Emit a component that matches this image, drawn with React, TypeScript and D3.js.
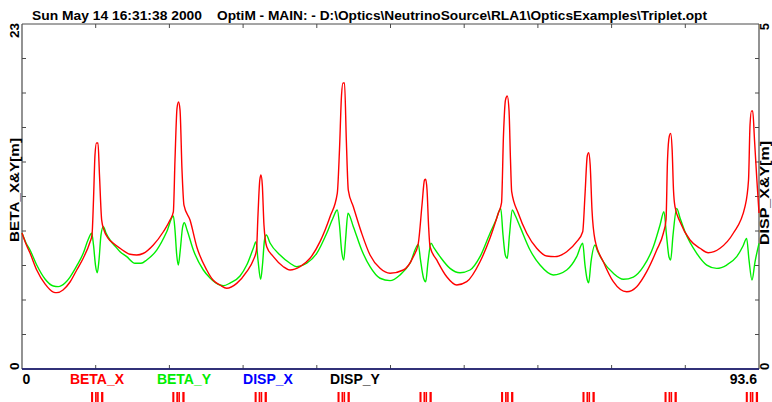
import React from "react";
import * as d3 from "d3";

const titleDate = "Sun May 14 16:31:38 2000";
const titleFile = "OptiM - MAIN: - D:\\Optics\\NeutrinoSource\\RLA1\\OpticsExamples\\Triplet.opt";

const sMax = 93.6;
const betaMax = 23;
const dispMax = 5;

const betaX: [number, number][] = [
  [0, 9.07],[0.51, 8.33],[1.02, 7.73],[1.87, 6.6],[2.92, 5.67],[3.98, 5.13],[4.41, 5.09],[5.21, 5.27],[6.1, 5.8],[6.95, 6.6],
  [7.79, 7.4],[8.64, 8.47],[8.89, 8.93],[9.08, 11.27],[9.27, 14.27],[9.46, 15.07],[9.65, 15.07],[9.84, 12.93],[10.12, 9.93],[10.41, 9.27],
  [10.92, 8.73],[11.6, 8.38],[12.45, 8.05],[13.72, 7.65],[14.57, 7.6],[15.37, 7.7],[16.68, 8.27],[17.95, 9.15],[18.8, 9.93],[19.22, 10.47],
  [19.43, 13.93],[19.69, 17.4],[19.88, 17.8],[20.07, 17.27],[20.32, 13.27],[20.57, 10.93],[21.34, 9.93],[22.19, 8.15],[23.46, 6.6],[24.26, 5.93],
  [25.15, 5.6],[26.0, 5.38],[27.27, 5.71],[28.54, 6.49],[29.38, 7.27],[29.78, 7.93],[29.97, 10.27],[30.2, 12.6],[30.35, 12.93],[30.52, 12.27],
  [30.73, 9.6],[31.08, 8.15],[31.92, 7.49],[33.19, 6.82],[34.04, 6.6],[35.31, 6.82],[36.58, 7.38],[37.85, 8.49],[39.12, 10.15],[40.04, 11.71],
  [40.32, 14.6],[40.58, 18.27],[40.77, 19.07],[40.96, 19.07],[41.19, 15.27],[41.44, 11.93],[42.08, 10.82],[43.14, 9.05],[44.2, 7.6],[45.47, 6.71],
  [46.74, 6.38],[48.43, 6.6],[49.7, 7.49],[50.33, 8.38],[50.8, 10.93],[51.12, 12.6],[51.27, 12.65],[51.44, 11.93],[51.63, 9.6],[51.82, 8.15],
  [52.67, 7.27],[53.94, 6.15],[55.21, 5.6],[56.48, 5.82],[58.17, 7.15],[59.44, 8.73],[60.49, 10.38],[60.9, 11.07],[61.15, 15.6],[61.4, 17.93],
  [61.63, 18.2],[61.85, 17.27],[62.04, 13.93],[62.19, 11.82],[63.03, 10.38],[64.1, 9.05],[65.37, 8.05],[66.64, 7.53],[67.69, 7.49],[69.18, 7.82],
  [70.45, 8.49],[71.21, 9.15],[71.5, 11.6],[71.79, 14.2],[71.97, 14.42],[72.16, 13.6],[72.39, 10.6],[72.77, 8.6],[73.83, 7.15],[75.1, 5.82],
  [76.8, 5.15],[78.07, 5.49],[79.34, 6.49],[80.61, 7.93],[81.45, 9.05],[81.79, 9.93],[81.98, 13.93],[82.21, 15.53],[82.38, 15.71],[82.57, 14.6],
  [82.74, 11.93],[82.93, 10.82],[83.57, 9.82],[84.84, 8.6],[86.11, 8.05],[87.16, 7.75],[88.65, 8.05],[90.33, 9.05],[91.82, 10.82],[92.27, 12.6],
  [92.46, 16.27],[92.65, 17.2],[92.8, 17.2],[93.03, 15.27],[93.33, 12.6],[93.6, 10.4],
];

const betaY: [number, number][] = [
  [0, 9.07],[0.51, 8.4],[1.02, 7.93],[1.87, 6.93],[2.92, 6.0],[3.98, 5.53],[4.61, 5.49],[5.46, 5.73],[6.1, 6.13],[6.95, 6.87],
  [7.79, 7.73],[8.38, 8.6],[8.85, 9.05],[9.08, 8.27],[9.33, 6.93],[9.56, 6.42],[9.78, 7.27],[10.03, 8.93],[10.33, 9.49],[10.67, 9.07],
  [11.18, 8.6],[11.81, 8.2],[12.45, 7.82],[13.3, 7.49],[14.35, 7.05],[15.11, 7.05],[15.84, 7.27],[17.11, 7.93],[18.38, 9.15],[19.22, 10.2],
  [19.43, 9.27],[19.65, 7.6],[19.85, 6.93],[20.1, 7.93],[20.38, 9.4],[20.61, 9.75],[20.96, 9.27],[21.76, 7.93],[23.03, 6.6],[23.88, 6.07],
  [25.15, 5.6],[25.57, 5.55],[26.42, 5.73],[27.69, 6.2],[28.54, 6.93],[29.38, 8.05],[29.72, 8.49],[29.97, 7.27],[30.31, 5.98],[30.54, 6.93],
  [30.8, 8.6],[31.03, 8.93],[31.5, 8.4],[32.77, 7.6],[34.04, 7.05],[34.89, 6.82],[36.16, 7.05],[37.43, 7.71],[38.7, 9.05],[39.5, 10.07],
  [40.04, 10.6],[40.32, 9.6],[40.58, 7.93],[40.86, 7.27],[41.09, 8.6],[41.4, 10.38],[42.08, 9.49],[43.14, 7.93],[44.2, 6.82],[45.47, 6.05],
  [46.74, 5.89],[48.01, 6.27],[49.28, 7.05],[50.33, 8.31],[50.61, 7.27],[50.99, 6.07],[51.27, 5.82],[51.56, 7.13],[51.94, 8.38],[52.32, 8.07],
  [53.09, 7.49],[54.36, 6.71],[55.63, 6.42],[56.9, 6.6],[58.17, 7.49],[59.44, 9.05],[60.2, 9.93],[60.8, 10.71],[61.09, 8.93],[61.38, 7.6],
  [61.63, 7.38],[61.91, 8.93],[62.27, 10.6],[62.61, 10.27],[63.25, 9.49],[64.52, 7.93],[65.79, 6.93],[67.48, 6.27],[69.18, 6.6],[70.45, 7.49],
  [71.21, 8.38],[71.5, 6.93],[71.79, 5.93],[71.97, 5.75],[72.26, 7.13],[72.77, 8.27],[73.15, 7.8],[73.83, 7.15],[75.1, 6.38],[76.37, 5.98],
  [77.64, 6.13],[78.91, 6.82],[80.18, 8.15],[81.03, 9.6],[81.53, 10.49],[81.85, 8.93],[82.17, 7.47],[82.38, 7.27],[82.68, 8.93],[83.15, 10.71],
  [83.57, 10.07],[84.2, 9.15],[85.69, 7.71],[86.96, 6.93],[88.23, 6.71],[89.5, 6.93],[90.77, 7.49],[91.57, 8.2],[92.03, 8.71],[92.33, 7.27],
  [92.71, 5.93],[93.09, 7.13],[93.6, 8.38],
];

const dispS = [0, 93.6];
const dispX = [0, 0];
const dispY = [0, 0];

const tripletCenters = [9.56, 19.88, 30.33, 40.86, 51.27, 61.63, 71.97, 82.39, 92.71];
const quadStart = [-0.79, -0.28, -0.02, 0.48];
const quadEnd = [-0.53, -0.07, 0.18, 0.77];

const legendNames = ["BETA_X", "BETA_Y", "DISP_X", "DISP_Y"];
const legendColors = ["#ff0000", "#00ee00", "#0000ff", "#000000"];
const legendCenters = [97, 184, 268, 355];

const divisions = 10;

export default function App() {
  const L = 22, R = 759, T = 24, B = 369;
  const x = d3.scaleLinear().domain([0, sMax]).range([L, R]);
  const yL = d3.scaleLinear().domain([0, betaMax]).range([B, T]);
  const yR = d3.scaleLinear().domain([0, dispMax]).range([B, T]);

  const line = d3
    .line<[number, number]>()
    .x((d) => x(d[0]))
    .y((d) => yL(d[1]))
    .curve(d3.curveMonotoneX);
  const dline = d3
    .line<[number, number]>()
    .x((d) => x(d[0]))
    .y((d) => yR(d[1]));

  const xTicks = d3.range(1, divisions).map((i) => (sMax * i) / divisions);
  const yTicks = d3.range(1, divisions).map((i) => (betaMax * i) / divisions);
  const yRTicks = d3.range(1, divisions).map((i) => (dispMax * i) / divisions);

  const font = "'Liberation Sans', Arial, Helvetica, sans-serif";
  const frame = "#4a4a4a";

  return (
    <svg
      width={772}
      height={402}
      style={{ position: "absolute", left: 0, top: 0, background: "#fff" }}
      fontFamily={font}
      fontWeight="bold"
    >
      <rect x={0} y={0} width={772} height={402} fill="#fff" />
      <text x={32} y={20} fontSize={12.5} textLength={170} lengthAdjust="spacingAndGlyphs">
        {titleDate}
      </text>
      <text x={217} y={20} fontSize={12.5} textLength={490} lengthAdjust="spacingAndGlyphs">
        {titleFile}
      </text>

      {/* frame */}
      <line x1={L} x2={R} y1={T} y2={T} stroke={frame} strokeWidth={1} />
      <line x1={L} x2={L} y1={T} y2={B} stroke={frame} strokeWidth={1.2} />
      <line x1={R} x2={R} y1={T} y2={B} stroke={frame} strokeWidth={1.2} />
      <line x1={L} x2={R} y1={B} y2={B} stroke="#222" strokeWidth={1} />

      {xTicks.map((t, i) => (
        <g key={"xt" + i}>
          <line x1={x(t)} x2={x(t)} y1={T} y2={T + 4} stroke={frame} />
          <line x1={x(t)} x2={x(t)} y1={B} y2={B - 4} stroke={frame} />
        </g>
      ))}
      {yTicks.map((t, i) => (
        <line key={"yl" + i} x1={L} x2={L + 4} y1={yL(t)} y2={yL(t)} stroke={frame} />
      ))}
      {yRTicks.map((t, i) => (
        <line key={"yr" + i} x1={R} x2={R - 4} y1={yR(t)} y2={yR(t)} stroke={frame} />
      ))}

      {/* curves */}
      <path d={line(betaY) || ""} fill="none" stroke="#00ee00" strokeWidth={1.4} />
      <path d={line(betaX) || ""} fill="none" stroke="#ff0000" strokeWidth={1.4} />
      <path
        d={dline(dispS.map((s, i) => [s, dispY[i]] as [number, number])) || ""}
        fill="none"
        stroke="#000"
        strokeWidth={1.2}
      />
      <path
        d={dline(dispS.map((s, i) => [s, dispX[i]] as [number, number])) || ""}
        fill="none"
        stroke="#2a2a8a"
        strokeWidth={1.3}
      />

      {/* left axis labels */}
      <text transform={`translate(19,${T - 1}) rotate(-90)`} textAnchor="end" fontSize={13.5}>
        {betaMax}
      </text>
      <text transform={`translate(19,${B + 1}) rotate(-90)`} textAnchor="start" fontSize={13.5}>
        0
      </text>
      <text
        transform={`translate(19,190) rotate(-90)`}
        textAnchor="middle"
        fontSize={13.5}
        textLength={104}
        lengthAdjust="spacingAndGlyphs"
      >
        BETA_X&amp;Y[m]
      </text>

      {/* right axis labels */}
      <text transform={`translate(769,${T - 1}) rotate(-90)`} textAnchor="end" fontSize={13}>
        {dispMax}
      </text>
      <text transform={`translate(769,${B + 1}) rotate(-90)`} textAnchor="start" fontSize={13}>
        0
      </text>
      <text
        transform={`translate(769,193) rotate(-90)`}
        textAnchor="middle"
        fontSize={13}
        textLength={104}
        lengthAdjust="spacingAndGlyphs"
      >
        DISP_X&amp;Y[m]
      </text>

      {/* bottom labels */}
      <text x={x(0) + 0.5} y={384} fontSize={14}>
        0
      </text>
      <text x={x(sMax) - 2} y={384} fontSize={14} textAnchor="end">
        {sMax}
      </text>
      {legendNames.map((n, i) => (
        <text key={n} x={legendCenters[i]} y={384} fontSize={14} textAnchor="middle" fill={legendColors[i]}>
          {n}
        </text>
      ))}

      {/* lattice */}
      {tripletCenters.map((c, i) =>
        quadStart.map((qs, j) => (
          <rect
            key={"q" + i + "-" + j}
            x={x(c + qs)}
            y={392}
            width={x(c + quadEnd[j]) - x(c + qs)}
            height={10}
            fill="#ff0000"
          />
        ))
      )}
    </svg>
  );
}
